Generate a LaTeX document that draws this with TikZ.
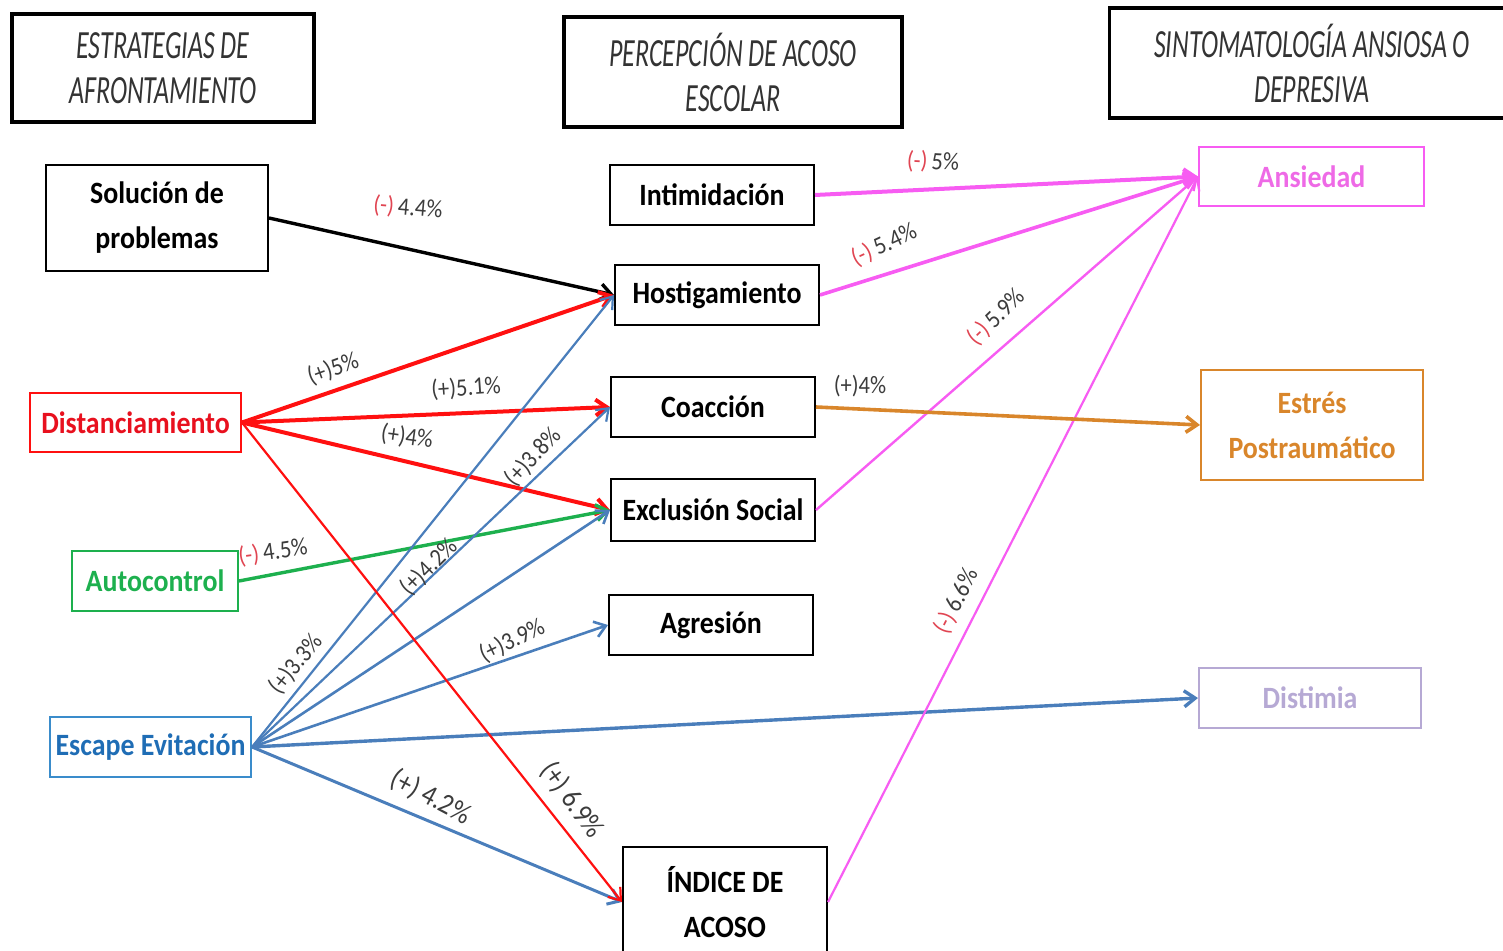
\documentclass[tikz,border=0pt]{standalone}
\usepackage{fontspec}
\setmainfont{Carlito}[FakeStretch=0.9]
\newfontfamily\hdrfont{Carlito}[FakeStretch=0.65]
\usetikzlibrary{arrows.meta}

\definecolor{redc}{HTML}{FF1010}
\definecolor{redtxt}{HTML}{E8101E}
\definecolor{greenc}{HTML}{1DB04E}
\definecolor{bluec}{HTML}{4A7EBB}
\definecolor{bluetxt}{HTML}{1F6DB5}
\definecolor{blueframe}{HTML}{3A8CCB}
\definecolor{magc}{HTML}{F75CF2}
\definecolor{magtxt}{HTML}{EE6AE6}
\definecolor{orangec}{HTML}{D9862B}
\definecolor{lavc}{HTML}{B6A9D4}
\definecolor{labgray}{HTML}{3C3C3C}
\definecolor{negred}{HTML}{E04552}

\tikzset{
  hdr/.style={draw, line width=1.75pt, inner sep=0pt, align=center,
    font=\hdrfont\itshape\fontsize{20}{22.5}\selectfont, text=black!80},
  box/.style={draw, line width=1pt, inner sep=0pt, align=center,
    font=\bfseries\fontsize{15.5}{22.5}\selectfont},
  lbl/.style={font=\fontsize{12.5}{14}\selectfont, text=labgray, inner sep=0pt},
  biglbl/.style={lbl, font=\fontsize{14.5}{16}\selectfont},
  arr/.style={-{Straight Barb[length=5.5pt,width=8pt]}},
}
\newcommand{\negsign}{\textcolor{negred}{(-)}}

\begin{document}
\begin{tikzpicture}[x=0.5pt,y=-0.5pt]
\useasboundingbox (0,0) rectangle (1503,951);

% column headers
\node[hdr, minimum width=151pt, minimum height=54pt] (h1) at (163,68) {ESTRATEGIAS DE\\AFRONTAMIENTO};
\node[hdr, minimum width=169pt, minimum height=55pt] (h2) at (733,72) {PERCEPCIÓN DE ACOSO\\ESCOLAR};
\node[hdr, minimum width=202.5pt, minimum height=55pt] (h3) at (1312,63) {SINTOMATOLOGÍA ANSIOSA O\\DEPRESIVA};

% coping strategies
\node[box, minimum width=111pt, minimum height=53pt] (sol) at (157,218) {Solución de\\problemas};
\node[box, draw=redc, text=redtxt, minimum width=105.5pt, minimum height=29.5pt] (dist) at (135.5,422.5) {Distanciamiento};
\node[box, draw=greenc, text=greenc, minimum width=83pt, minimum height=30pt] (auto) at (155,581) {Autocontrol};
\node[box, draw=blueframe, text=bluetxt, minimum width=100.5pt, minimum height=30pt] (esc) at (150.5,747) {Escape Evitación};

% bullying perception
\node[box, minimum width=102pt, minimum height=30pt] (intim) at (712,195) {Intimidación};
\node[box, minimum width=102pt, minimum height=30pt] (host) at (717,295) {Hostigamiento};
\node[box, minimum width=102pt, minimum height=30pt] (coac) at (713,407) {Coacción};
\node[box, minimum width=102pt, minimum height=31pt] (excl) at (713,510) {Exclusión Social};
\node[box, minimum width=102pt, minimum height=30pt] (agr) at (711,625) {Agresión};
\node[box, minimum width=102pt, minimum height=55pt] (ind) at (725,902) {ÍNDICE DE\\ACOSO};

% symptoms
\node[box, draw=magc, text=magtxt, minimum width=112.5pt, minimum height=29.5pt] (ans) at (1311.5,176.5) {Ansiedad};
\node[box, draw=orangec, text=orangec, minimum width=111pt, minimum height=55pt] (estr) at (1312,425) {Estrés\\Postraumático};
\node[box, draw=lavc, text=lavc, minimum width=111pt, minimum height=30pt] (dis) at (1310,698) {Distimia};

% connectors from coping strategies
\draw[arr, line width=1.7pt, black] (sol.east) -- (host.west);
\draw[arr, line width=2pt, redc] (dist.east) -- (host.west);
\draw[arr, line width=2pt, redc] (dist.east) -- (coac.west);
\draw[arr, line width=2pt, redc] (dist.east) -- (excl.west);
\draw[arr, line width=1.7pt, greenc] (auto.east) -- (excl.west);
\draw[arr, line width=1.1pt, bluec] (esc.east) -- (host.west);
\draw[arr, line width=1.1pt, bluec] (esc.east) -- (coac.west);
\draw[arr, line width=1.3pt, bluec] (esc.east) -- (excl.west);
\draw[arr, line width=1.3pt, bluec] (esc.east) -- (agr.west);
\draw[arr, line width=1.7pt, bluec] (esc.east) -- (dis.west);
\draw[arr, line width=1.5pt, bluec] (esc.east) -- (ind.west);
\draw[arr, line width=1.1pt, redc] (dist.east) -- (ind.west);

% connectors to symptoms
\draw[arr, line width=2pt, magc] (intim.east) -- (ans.west);
\draw[arr, line width=1.8pt, magc] (host.east) -- (ans.west);
\draw[arr, line width=1.2pt, magc] (excl.east) -- (ans.west);
\draw[arr, line width=1.1pt, magc] (ind.east) -- (ans.west);
\draw[arr, line width=1.8pt, orangec] (coac.east) -- (estr.west);

% percentages
\node[lbl, rotate=-5] (l1) at (408,208) {\negsign\,4.4\%};
\node[lbl, rotate=20] (l2) at (333,369) {(+)5\%};
\node[lbl, rotate=4] (l3) at (466,388) {(+)5.1\%};
\node[lbl, rotate=-8] (l4) at (407,437) {(+)4\%};
\node[biglbl, rotate=-54] (l5) at (572,800) {(+) 6.9\%};
\node[lbl, rotate=8] (l6) at (273,552) {\negsign\,4.5\%};
\node[lbl, rotate=51] (l7) at (296,664) {(+)3.3\%};
\node[lbl, rotate=47] (l8) at (533,457) {(+)3.8\%};
\node[lbl, rotate=45] (l9) at (429,567) {(+)4.2\%};
\node[lbl, rotate=26] (l10) at (512,641) {(+)3.9\%};
\node[biglbl, rotate=-28] (l11) at (431,797) {(+) 4.2\%};
\node[lbl, rotate=-3] (l12) at (933,162) {\negsign\,5\%};
\node[lbl, rotate=25] (l13) at (884,245) {\negsign\,5.4\%};
\node[lbl, rotate=44] (l14) at (996,317) {\negsign\,5.9\%};
\node[lbl, rotate=63] (l15) at (956,601) {\negsign\,6.6\%};
\node[lbl] (l16) at (860,386) {(+)4\%};
\end{tikzpicture}
\end{document}
